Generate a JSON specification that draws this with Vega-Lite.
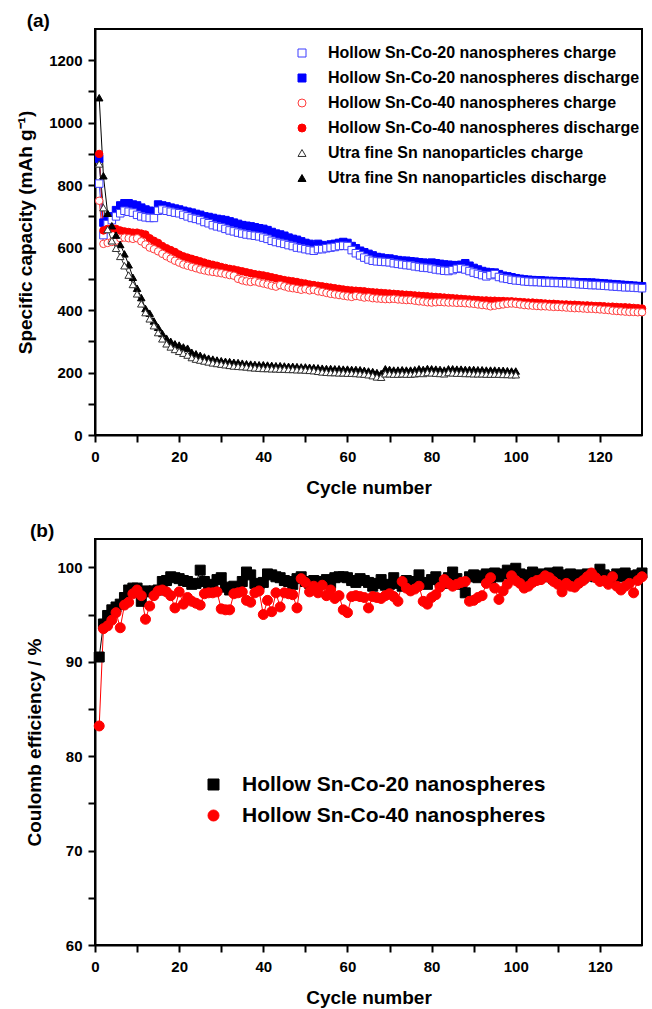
{
"$schema": "https://vega.github.io/schema/vega-lite/v6.json",
"background": "white",
"padding": {"left": 15, "top": 11, "right": 5, "bottom": 5},
"spacing": 104,
"bounds": "flush",
"config": {
  "font": "Liberation Sans",
  "view": {"stroke": "black", "strokeWidth": 2},
  "axis": {"domainColor": "black", "domainWidth": 2, "tickColor": "black", "tickWidth": 2, "labelFont": "Liberation Sans", "labelFontWeight": "bold", "labelFontSize": 15, "labelColor": "black", "titleFont": "Liberation Sans", "titleFontWeight": "bold", "titleColor": "black", "grid": false, "labelOverlap": false, "labelFlush": false},
  "legend": {"labelFont": "Liberation Sans", "labelFontWeight": "bold", "labelColor": "black", "padding": 0, "symbolStrokeWidth": 1, "labelLimit": 600},
  "title": {"font": "Liberation Sans", "fontWeight": "bold", "color": "black"}
},
"resolve": {"scale": {"color": "independent", "fill": "independent", "shape": "independent"}, "legend": {"color": "independent", "fill": "independent", "shape": "independent"}},
"datasets": {
"a": [
{"s":"B","x":1,"y":885},{"s":"B","x":2,"y":680},{"s":"B","x":3,"y":690},{"s":"B","x":4,"y":700},{"s":"B","x":5,"y":720},{"s":"B","x":6,"y":735},{"s":"B","x":7,"y":742},{"s":"B","x":8,"y":742},{"s":"B","x":9,"y":738},{"s":"B","x":10,"y":735},
{"s":"B","x":11,"y":728},{"s":"B","x":12,"y":722},{"s":"B","x":13,"y":718},{"s":"B","x":14,"y":716},{"s":"B","x":15,"y":738},{"s":"B","x":16,"y":735},{"s":"B","x":17,"y":732},{"s":"B","x":18,"y":728},{"s":"B","x":19,"y":725},{"s":"B","x":20,"y":722},
{"s":"B","x":21,"y":718},{"s":"B","x":22,"y":715},{"s":"B","x":23,"y":712},{"s":"B","x":24,"y":708},{"s":"B","x":25,"y":705},{"s":"B","x":26,"y":700},{"s":"B","x":27,"y":698},{"s":"B","x":28,"y":695},{"s":"B","x":29,"y":692},{"s":"B","x":30,"y":690},
{"s":"B","x":31,"y":688},{"s":"B","x":32,"y":684},{"s":"B","x":33,"y":680},{"s":"B","x":34,"y":676},{"s":"B","x":35,"y":672},{"s":"B","x":36,"y":670},{"s":"B","x":37,"y":668},{"s":"B","x":38,"y":665},{"s":"B","x":39,"y":662},{"s":"B","x":40,"y":660},
{"s":"B","x":41,"y":656},{"s":"B","x":42,"y":650},{"s":"B","x":43,"y":645},{"s":"B","x":44,"y":642},{"s":"B","x":45,"y":638},{"s":"B","x":46,"y":632},{"s":"B","x":47,"y":628},{"s":"B","x":48,"y":625},{"s":"B","x":49,"y":620},{"s":"B","x":50,"y":615},
{"s":"B","x":51,"y":612},{"s":"B","x":52,"y":605},{"s":"B","x":53,"y":612},{"s":"B","x":54,"y":608},{"s":"B","x":55,"y":605},{"s":"B","x":56,"y":610},{"s":"B","x":57,"y":612},{"s":"B","x":58,"y":615},{"s":"B","x":59,"y":618},{"s":"B","x":60,"y":615},
{"s":"B","x":61,"y":605},{"s":"B","x":62,"y":598},{"s":"B","x":63,"y":590},{"s":"B","x":64,"y":585},{"s":"B","x":65,"y":580},{"s":"B","x":66,"y":575},{"s":"B","x":67,"y":570},{"s":"B","x":68,"y":568},{"s":"B","x":69,"y":565},{"s":"B","x":70,"y":565},
{"s":"B","x":71,"y":562},{"s":"B","x":72,"y":560},{"s":"B","x":73,"y":558},{"s":"B","x":74,"y":558},{"s":"B","x":75,"y":556},{"s":"B","x":76,"y":555},{"s":"B","x":77,"y":553},{"s":"B","x":78,"y":552},{"s":"B","x":79,"y":550},{"s":"B","x":80,"y":552},
{"s":"B","x":81,"y":550},{"s":"B","x":82,"y":548},{"s":"B","x":83,"y":546},{"s":"B","x":84,"y":545},{"s":"B","x":85,"y":544},{"s":"B","x":86,"y":543},{"s":"B","x":87,"y":545},{"s":"B","x":88,"y":550},{"s":"B","x":89,"y":542},{"s":"B","x":90,"y":535},
{"s":"B","x":91,"y":530},{"s":"B","x":92,"y":525},{"s":"B","x":93,"y":522},{"s":"B","x":94,"y":520},{"s":"B","x":95,"y":520},{"s":"B","x":96,"y":515},{"s":"B","x":97,"y":510},{"s":"B","x":98,"y":508},{"s":"B","x":99,"y":505},{"s":"B","x":100,"y":502},
{"s":"B","x":101,"y":500},{"s":"B","x":102,"y":498},{"s":"B","x":103,"y":497},{"s":"B","x":104,"y":496},{"s":"B","x":105,"y":495},{"s":"B","x":106,"y":495},{"s":"B","x":107,"y":494},{"s":"B","x":108,"y":493},{"s":"B","x":109,"y":493},{"s":"B","x":110,"y":492},
{"s":"B","x":111,"y":492},{"s":"B","x":112,"y":491},{"s":"B","x":113,"y":490},{"s":"B","x":114,"y":490},{"s":"B","x":115,"y":489},{"s":"B","x":116,"y":489},{"s":"B","x":117,"y":488},{"s":"B","x":118,"y":488},{"s":"B","x":119,"y":487},{"s":"B","x":120,"y":486},
{"s":"B","x":121,"y":485},{"s":"B","x":122,"y":484},{"s":"B","x":123,"y":483},{"s":"B","x":124,"y":482},{"s":"B","x":125,"y":481},{"s":"B","x":126,"y":480},{"s":"B","x":127,"y":479},{"s":"B","x":128,"y":478},{"s":"B","x":129,"y":477},{"s":"B","x":130,"y":476},
{"s":"A","x":1,"y":805},{"s":"A","x":2,"y":640},{"s":"A","x":3,"y":675},{"s":"A","x":4,"y":688},{"s":"A","x":5,"y":700},{"s":"A","x":6,"y":710},{"s":"A","x":7,"y":718},{"s":"A","x":8,"y":715},{"s":"A","x":9,"y":712},{"s":"A","x":10,"y":705},
{"s":"A","x":11,"y":700},{"s":"A","x":12,"y":697},{"s":"A","x":13,"y":695},{"s":"A","x":14,"y":695},{"s":"A","x":15,"y":718},{"s":"A","x":16,"y":722},{"s":"A","x":17,"y":718},{"s":"A","x":18,"y":715},{"s":"A","x":19,"y":712},{"s":"A","x":20,"y":710},
{"s":"A","x":21,"y":705},{"s":"A","x":22,"y":700},{"s":"A","x":23,"y":695},{"s":"A","x":24,"y":692},{"s":"A","x":25,"y":688},{"s":"A","x":26,"y":682},{"s":"A","x":27,"y":678},{"s":"A","x":28,"y":672},{"s":"A","x":29,"y":668},{"s":"A","x":30,"y":665},
{"s":"A","x":31,"y":660},{"s":"A","x":32,"y":655},{"s":"A","x":33,"y":652},{"s":"A","x":34,"y":648},{"s":"A","x":35,"y":645},{"s":"A","x":36,"y":642},{"s":"A","x":37,"y":640},{"s":"A","x":38,"y":638},{"s":"A","x":39,"y":636},{"s":"A","x":40,"y":632},
{"s":"A","x":41,"y":628},{"s":"A","x":42,"y":622},{"s":"A","x":43,"y":618},{"s":"A","x":44,"y":615},{"s":"A","x":45,"y":612},{"s":"A","x":46,"y":608},{"s":"A","x":47,"y":605},{"s":"A","x":48,"y":600},{"s":"A","x":49,"y":598},{"s":"A","x":50,"y":595},
{"s":"A","x":51,"y":592},{"s":"A","x":52,"y":590},{"s":"A","x":53,"y":595},{"s":"A","x":54,"y":595},{"s":"A","x":55,"y":598},{"s":"A","x":56,"y":600},{"s":"A","x":57,"y":602},{"s":"A","x":58,"y":605},{"s":"A","x":59,"y":606},{"s":"A","x":60,"y":605},
{"s":"A","x":61,"y":592},{"s":"A","x":62,"y":582},{"s":"A","x":63,"y":575},{"s":"A","x":64,"y":568},{"s":"A","x":65,"y":562},{"s":"A","x":66,"y":558},{"s":"A","x":67,"y":556},{"s":"A","x":68,"y":555},{"s":"A","x":69,"y":554},{"s":"A","x":70,"y":553},
{"s":"A","x":71,"y":550},{"s":"A","x":72,"y":548},{"s":"A","x":73,"y":546},{"s":"A","x":74,"y":544},{"s":"A","x":75,"y":543},{"s":"A","x":76,"y":540},{"s":"A","x":77,"y":538},{"s":"A","x":78,"y":536},{"s":"A","x":79,"y":535},{"s":"A","x":80,"y":533},
{"s":"A","x":81,"y":530},{"s":"A","x":82,"y":528},{"s":"A","x":83,"y":526},{"s":"A","x":84,"y":525},{"s":"A","x":85,"y":528},{"s":"A","x":86,"y":532},{"s":"A","x":87,"y":534},{"s":"A","x":88,"y":530},{"s":"A","x":89,"y":525},{"s":"A","x":90,"y":520},
{"s":"A","x":91,"y":516},{"s":"A","x":92,"y":512},{"s":"A","x":93,"y":508},{"s":"A","x":94,"y":512},{"s":"A","x":95,"y":515},{"s":"A","x":96,"y":506},{"s":"A","x":97,"y":502},{"s":"A","x":98,"y":500},{"s":"A","x":99,"y":497},{"s":"A","x":100,"y":495},
{"s":"A","x":101,"y":494},{"s":"A","x":102,"y":492},{"s":"A","x":103,"y":491},{"s":"A","x":104,"y":490},{"s":"A","x":105,"y":490},{"s":"A","x":106,"y":489},{"s":"A","x":107,"y":488},{"s":"A","x":108,"y":488},{"s":"A","x":109,"y":487},{"s":"A","x":110,"y":487},
{"s":"A","x":111,"y":486},{"s":"A","x":112,"y":486},{"s":"A","x":113,"y":485},{"s":"A","x":114,"y":484},{"s":"A","x":115,"y":483},{"s":"A","x":116,"y":482},{"s":"A","x":117,"y":481},{"s":"A","x":118,"y":480},{"s":"A","x":119,"y":480},{"s":"A","x":120,"y":479},
{"s":"A","x":121,"y":478},{"s":"A","x":122,"y":477},{"s":"A","x":123,"y":476},{"s":"A","x":124,"y":475},{"s":"A","x":125,"y":474},{"s":"A","x":126,"y":473},{"s":"A","x":127,"y":473},{"s":"A","x":128,"y":472},{"s":"A","x":129,"y":471},{"s":"A","x":130,"y":470},
{"s":"D","x":1,"y":900},{"s":"D","x":2,"y":655},{"s":"D","x":3,"y":660},{"s":"D","x":4,"y":662},{"s":"D","x":5,"y":660},{"s":"D","x":6,"y":655},{"s":"D","x":7,"y":652},{"s":"D","x":8,"y":650},{"s":"D","x":9,"y":648},{"s":"D","x":10,"y":648},
{"s":"D","x":11,"y":645},{"s":"D","x":12,"y":642},{"s":"D","x":13,"y":630},{"s":"D","x":14,"y":622},{"s":"D","x":15,"y":615},{"s":"D","x":16,"y":605},{"s":"D","x":17,"y":598},{"s":"D","x":18,"y":592},{"s":"D","x":19,"y":586},{"s":"D","x":20,"y":578},
{"s":"D","x":21,"y":572},{"s":"D","x":22,"y":568},{"s":"D","x":23,"y":564},{"s":"D","x":24,"y":560},{"s":"D","x":25,"y":556},{"s":"D","x":26,"y":552},{"s":"D","x":27,"y":548},{"s":"D","x":28,"y":545},{"s":"D","x":29,"y":542},{"s":"D","x":30,"y":538},
{"s":"D","x":31,"y":535},{"s":"D","x":32,"y":532},{"s":"D","x":33,"y":530},{"s":"D","x":34,"y":527},{"s":"D","x":35,"y":524},{"s":"D","x":36,"y":521},{"s":"D","x":37,"y":518},{"s":"D","x":38,"y":515},{"s":"D","x":39,"y":513},{"s":"D","x":40,"y":511},
{"s":"D","x":41,"y":508},{"s":"D","x":42,"y":505},{"s":"D","x":43,"y":502},{"s":"D","x":44,"y":499},{"s":"D","x":45,"y":496},{"s":"D","x":46,"y":494},{"s":"D","x":47,"y":492},{"s":"D","x":48,"y":490},{"s":"D","x":49,"y":487},{"s":"D","x":50,"y":485},
{"s":"D","x":51,"y":482},{"s":"D","x":52,"y":480},{"s":"D","x":53,"y":478},{"s":"D","x":54,"y":476},{"s":"D","x":55,"y":474},{"s":"D","x":56,"y":472},{"s":"D","x":57,"y":470},{"s":"D","x":58,"y":468},{"s":"D","x":59,"y":466},{"s":"D","x":60,"y":464},
{"s":"D","x":61,"y":463},{"s":"D","x":62,"y":462},{"s":"D","x":63,"y":461},{"s":"D","x":64,"y":460},{"s":"D","x":65,"y":458},{"s":"D","x":66,"y":457},{"s":"D","x":67,"y":456},{"s":"D","x":68,"y":455},{"s":"D","x":69,"y":454},{"s":"D","x":70,"y":453},
{"s":"D","x":71,"y":452},{"s":"D","x":72,"y":451},{"s":"D","x":73,"y":450},{"s":"D","x":74,"y":449},{"s":"D","x":75,"y":448},{"s":"D","x":76,"y":447},{"s":"D","x":77,"y":446},{"s":"D","x":78,"y":445},{"s":"D","x":79,"y":444},{"s":"D","x":80,"y":443},
{"s":"D","x":81,"y":442},{"s":"D","x":82,"y":441},{"s":"D","x":83,"y":440},{"s":"D","x":84,"y":439},{"s":"D","x":85,"y":438},{"s":"D","x":86,"y":437},{"s":"D","x":87,"y":436},{"s":"D","x":88,"y":435},{"s":"D","x":89,"y":434},{"s":"D","x":90,"y":433},
{"s":"D","x":91,"y":432},{"s":"D","x":92,"y":431},{"s":"D","x":93,"y":431},{"s":"D","x":94,"y":430},{"s":"D","x":95,"y":430},{"s":"D","x":96,"y":429},{"s":"D","x":97,"y":429},{"s":"D","x":98,"y":428},{"s":"D","x":99,"y":428},{"s":"D","x":100,"y":427},
{"s":"D","x":101,"y":426},{"s":"D","x":102,"y":425},{"s":"D","x":103,"y":424},{"s":"D","x":104,"y":424},{"s":"D","x":105,"y":423},{"s":"D","x":106,"y":422},{"s":"D","x":107,"y":421},{"s":"D","x":108,"y":420},{"s":"D","x":109,"y":420},{"s":"D","x":110,"y":419},
{"s":"D","x":111,"y":418},{"s":"D","x":112,"y":418},{"s":"D","x":113,"y":417},{"s":"D","x":114,"y":417},{"s":"D","x":115,"y":416},{"s":"D","x":116,"y":415},{"s":"D","x":117,"y":415},{"s":"D","x":118,"y":414},{"s":"D","x":119,"y":413},{"s":"D","x":120,"y":413},
{"s":"D","x":121,"y":412},{"s":"D","x":122,"y":411},{"s":"D","x":123,"y":411},{"s":"D","x":124,"y":410},{"s":"D","x":125,"y":409},{"s":"D","x":126,"y":409},{"s":"D","x":127,"y":408},{"s":"D","x":128,"y":407},{"s":"D","x":129,"y":406},{"s":"D","x":130,"y":405},
{"s":"C","x":1,"y":750},{"s":"C","x":2,"y":612},{"s":"C","x":3,"y":615},{"s":"C","x":4,"y":618},{"s":"C","x":5,"y":622},{"s":"C","x":6,"y":630},{"s":"C","x":7,"y":632},{"s":"C","x":8,"y":630},{"s":"C","x":9,"y":628},{"s":"C","x":10,"y":630},
{"s":"C","x":11,"y":620},{"s":"C","x":12,"y":610},{"s":"C","x":13,"y":600},{"s":"C","x":14,"y":595},{"s":"C","x":15,"y":588},{"s":"C","x":16,"y":580},{"s":"C","x":17,"y":572},{"s":"C","x":18,"y":565},{"s":"C","x":19,"y":558},{"s":"C","x":20,"y":552},
{"s":"C","x":21,"y":546},{"s":"C","x":22,"y":542},{"s":"C","x":23,"y":538},{"s":"C","x":24,"y":534},{"s":"C","x":25,"y":530},{"s":"C","x":26,"y":527},{"s":"C","x":27,"y":524},{"s":"C","x":28,"y":522},{"s":"C","x":29,"y":520},{"s":"C","x":30,"y":518},
{"s":"C","x":31,"y":515},{"s":"C","x":32,"y":512},{"s":"C","x":33,"y":510},{"s":"C","x":34,"y":500},{"s":"C","x":35,"y":495},{"s":"C","x":36,"y":492},{"s":"C","x":37,"y":490},{"s":"C","x":38,"y":492},{"s":"C","x":39,"y":488},{"s":"C","x":40,"y":485},
{"s":"C","x":41,"y":482},{"s":"C","x":42,"y":478},{"s":"C","x":43,"y":475},{"s":"C","x":44,"y":480},{"s":"C","x":45,"y":476},{"s":"C","x":46,"y":472},{"s":"C","x":47,"y":470},{"s":"C","x":48,"y":468},{"s":"C","x":49,"y":465},{"s":"C","x":50,"y":467},
{"s":"C","x":51,"y":463},{"s":"C","x":52,"y":465},{"s":"C","x":53,"y":460},{"s":"C","x":54,"y":458},{"s":"C","x":55,"y":455},{"s":"C","x":56,"y":452},{"s":"C","x":57,"y":450},{"s":"C","x":58,"y":448},{"s":"C","x":59,"y":446},{"s":"C","x":60,"y":444},
{"s":"C","x":61,"y":442},{"s":"C","x":62,"y":445},{"s":"C","x":63,"y":443},{"s":"C","x":64,"y":440},{"s":"C","x":65,"y":441},{"s":"C","x":66,"y":438},{"s":"C","x":67,"y":437},{"s":"C","x":68,"y":436},{"s":"C","x":69,"y":435},{"s":"C","x":70,"y":435},
{"s":"C","x":71,"y":436},{"s":"C","x":72,"y":434},{"s":"C","x":73,"y":433},{"s":"C","x":74,"y":432},{"s":"C","x":75,"y":432},{"s":"C","x":76,"y":430},{"s":"C","x":77,"y":428},{"s":"C","x":78,"y":427},{"s":"C","x":79,"y":425},{"s":"C","x":80,"y":424},
{"s":"C","x":81,"y":425},{"s":"C","x":82,"y":426},{"s":"C","x":83,"y":425},{"s":"C","x":84,"y":424},{"s":"C","x":85,"y":424},{"s":"C","x":86,"y":423},{"s":"C","x":87,"y":423},{"s":"C","x":88,"y":422},{"s":"C","x":89,"y":421},{"s":"C","x":90,"y":420},
{"s":"C","x":91,"y":418},{"s":"C","x":92,"y":416},{"s":"C","x":93,"y":415},{"s":"C","x":94,"y":412},{"s":"C","x":95,"y":414},{"s":"C","x":96,"y":416},{"s":"C","x":97,"y":418},{"s":"C","x":98,"y":420},{"s":"C","x":99,"y":421},{"s":"C","x":100,"y":420},
{"s":"C","x":101,"y":418},{"s":"C","x":102,"y":416},{"s":"C","x":103,"y":415},{"s":"C","x":104,"y":414},{"s":"C","x":105,"y":413},{"s":"C","x":106,"y":412},{"s":"C","x":107,"y":412},{"s":"C","x":108,"y":411},{"s":"C","x":109,"y":410},{"s":"C","x":110,"y":410},
{"s":"C","x":111,"y":409},{"s":"C","x":112,"y":408},{"s":"C","x":113,"y":407},{"s":"C","x":114,"y":406},{"s":"C","x":115,"y":406},{"s":"C","x":116,"y":405},{"s":"C","x":117,"y":404},{"s":"C","x":118,"y":404},{"s":"C","x":119,"y":403},{"s":"C","x":120,"y":402},
{"s":"C","x":121,"y":401},{"s":"C","x":122,"y":400},{"s":"C","x":123,"y":398},{"s":"C","x":124,"y":397},{"s":"C","x":125,"y":396},{"s":"C","x":126,"y":395},{"s":"C","x":127,"y":394},{"s":"C","x":128,"y":394},{"s":"C","x":129,"y":393},{"s":"C","x":130,"y":393},
{"s":"F","x":1,"y":1080},{"s":"F","x":2,"y":830},{"s":"F","x":3,"y":710},{"s":"F","x":4,"y":670},{"s":"F","x":5,"y":640},{"s":"F","x":6,"y":610},{"s":"F","x":7,"y":580},{"s":"F","x":8,"y":545},{"s":"F","x":9,"y":505},{"s":"F","x":10,"y":470},
{"s":"F","x":11,"y":440},{"s":"F","x":12,"y":405},{"s":"F","x":13,"y":390},{"s":"F","x":14,"y":365},{"s":"F","x":15,"y":345},{"s":"F","x":16,"y":325},{"s":"F","x":17,"y":310},{"s":"F","x":18,"y":300},{"s":"F","x":19,"y":292},{"s":"F","x":20,"y":288},
{"s":"F","x":21,"y":282},{"s":"F","x":22,"y":278},{"s":"F","x":23,"y":265},{"s":"F","x":24,"y":260},{"s":"F","x":25,"y":255},{"s":"F","x":26,"y":250},{"s":"F","x":27,"y":246},{"s":"F","x":28,"y":243},{"s":"F","x":29,"y":240},{"s":"F","x":30,"y":238},
{"s":"F","x":31,"y":236},{"s":"F","x":32,"y":235},{"s":"F","x":33,"y":233},{"s":"F","x":34,"y":232},{"s":"F","x":35,"y":230},{"s":"F","x":36,"y":228},{"s":"F","x":37,"y":227},{"s":"F","x":38,"y":226},{"s":"F","x":39,"y":225},{"s":"F","x":40,"y":225},
{"s":"F","x":41,"y":224},{"s":"F","x":42,"y":223},{"s":"F","x":43,"y":222},{"s":"F","x":44,"y":222},{"s":"F","x":45,"y":221},{"s":"F","x":46,"y":220},{"s":"F","x":47,"y":220},{"s":"F","x":48,"y":219},{"s":"F","x":49,"y":218},{"s":"F","x":50,"y":218},
{"s":"F","x":51,"y":217},{"s":"F","x":52,"y":216},{"s":"F","x":53,"y":215},{"s":"F","x":54,"y":214},{"s":"F","x":55,"y":213},{"s":"F","x":56,"y":213},{"s":"F","x":57,"y":212},{"s":"F","x":58,"y":212},{"s":"F","x":59,"y":211},{"s":"F","x":60,"y":211},
{"s":"F","x":61,"y":210},{"s":"F","x":62,"y":210},{"s":"F","x":63,"y":209},{"s":"F","x":64,"y":207},{"s":"F","x":65,"y":205},{"s":"F","x":66,"y":203},{"s":"F","x":67,"y":200},{"s":"F","x":68,"y":197},{"s":"F","x":69,"y":212},{"s":"F","x":70,"y":210},
{"s":"F","x":71,"y":208},{"s":"F","x":72,"y":208},{"s":"F","x":73,"y":209},{"s":"F","x":74,"y":208},{"s":"F","x":75,"y":208},{"s":"F","x":76,"y":209},{"s":"F","x":77,"y":212},{"s":"F","x":78,"y":210},{"s":"F","x":79,"y":213},{"s":"F","x":80,"y":212},
{"s":"F","x":81,"y":211},{"s":"F","x":82,"y":210},{"s":"F","x":83,"y":208},{"s":"F","x":84,"y":212},{"s":"F","x":85,"y":212},{"s":"F","x":86,"y":211},{"s":"F","x":87,"y":211},{"s":"F","x":88,"y":210},{"s":"F","x":89,"y":210},{"s":"F","x":90,"y":210},
{"s":"F","x":91,"y":209},{"s":"F","x":92,"y":209},{"s":"F","x":93,"y":208},{"s":"F","x":94,"y":208},{"s":"F","x":95,"y":208},{"s":"F","x":96,"y":207},{"s":"F","x":97,"y":207},{"s":"F","x":98,"y":206},{"s":"F","x":99,"y":205},{"s":"F","x":100,"y":205},
{"s":"E","x":1,"y":868},{"s":"E","x":2,"y":728},{"s":"E","x":3,"y":658},{"s":"E","x":4,"y":622},{"s":"E","x":5,"y":598},{"s":"E","x":6,"y":572},{"s":"E","x":7,"y":542},{"s":"E","x":8,"y":512},{"s":"E","x":9,"y":482},{"s":"E","x":10,"y":452},
{"s":"E","x":11,"y":420},{"s":"E","x":12,"y":392},{"s":"E","x":13,"y":372},{"s":"E","x":14,"y":350},{"s":"E","x":15,"y":328},{"s":"E","x":16,"y":308},{"s":"E","x":17,"y":292},{"s":"E","x":18,"y":282},{"s":"E","x":19,"y":274},{"s":"E","x":20,"y":268},
{"s":"E","x":21,"y":262},{"s":"E","x":22,"y":256},{"s":"E","x":23,"y":248},{"s":"E","x":24,"y":243},{"s":"E","x":25,"y":240},{"s":"E","x":26,"y":237},{"s":"E","x":27,"y":234},{"s":"E","x":28,"y":231},{"s":"E","x":29,"y":229},{"s":"E","x":30,"y":227},
{"s":"E","x":31,"y":225},{"s":"E","x":32,"y":223},{"s":"E","x":33,"y":221},{"s":"E","x":34,"y":220},{"s":"E","x":35,"y":219},{"s":"E","x":36,"y":218},{"s":"E","x":37,"y":216},{"s":"E","x":38,"y":215},{"s":"E","x":39,"y":214},{"s":"E","x":40,"y":213},
{"s":"E","x":41,"y":213},{"s":"E","x":42,"y":212},{"s":"E","x":43,"y":212},{"s":"E","x":44,"y":211},{"s":"E","x":45,"y":211},{"s":"E","x":46,"y":210},{"s":"E","x":47,"y":210},{"s":"E","x":48,"y":209},{"s":"E","x":49,"y":209},{"s":"E","x":50,"y":208},
{"s":"E","x":51,"y":207},{"s":"E","x":52,"y":206},{"s":"E","x":53,"y":204},{"s":"E","x":54,"y":202},{"s":"E","x":55,"y":201},{"s":"E","x":56,"y":200},{"s":"E","x":57,"y":200},{"s":"E","x":58,"y":199},{"s":"E","x":59,"y":199},{"s":"E","x":60,"y":198},
{"s":"E","x":61,"y":198},{"s":"E","x":62,"y":197},{"s":"E","x":63,"y":196},{"s":"E","x":64,"y":195},{"s":"E","x":65,"y":193},{"s":"E","x":66,"y":190},{"s":"E","x":67,"y":186},{"s":"E","x":68,"y":185},{"s":"E","x":69,"y":196},{"s":"E","x":70,"y":196},
{"s":"E","x":71,"y":195},{"s":"E","x":72,"y":195},{"s":"E","x":73,"y":196},{"s":"E","x":74,"y":195},{"s":"E","x":75,"y":195},{"s":"E","x":76,"y":196},{"s":"E","x":77,"y":198},{"s":"E","x":78,"y":197},{"s":"E","x":79,"y":200},{"s":"E","x":80,"y":199},
{"s":"E","x":81,"y":198},{"s":"E","x":82,"y":197},{"s":"E","x":83,"y":196},{"s":"E","x":84,"y":200},{"s":"E","x":85,"y":199},{"s":"E","x":86,"y":198},{"s":"E","x":87,"y":198},{"s":"E","x":88,"y":197},{"s":"E","x":89,"y":197},{"s":"E","x":90,"y":196},
{"s":"E","x":91,"y":196},{"s":"E","x":92,"y":196},{"s":"E","x":93,"y":195},{"s":"E","x":94,"y":195},{"s":"E","x":95,"y":195},{"s":"E","x":96,"y":195},{"s":"E","x":97,"y":194},{"s":"E","x":98,"y":194},{"s":"E","x":99,"y":193},{"s":"E","x":100,"y":193}
],
"b": [
{"s":"G","x":1,"y":90.5},{"s":"G","x":2,"y":94.0},{"s":"G","x":3,"y":94.9},{"s":"G","x":4,"y":95.5},{"s":"G","x":5,"y":95.8},{"s":"G","x":6,"y":96.1},{"s":"G","x":7,"y":96.8},{"s":"G","x":8,"y":97.6},{"s":"G","x":9,"y":97.8},{"s":"G","x":10,"y":97.8},
{"s":"G","x":11,"y":96.4},{"s":"G","x":12,"y":97.5},{"s":"G","x":13,"y":97.4},{"s":"G","x":14,"y":97.5},{"s":"G","x":15,"y":97.6},{"s":"G","x":16,"y":98.5},{"s":"G","x":17,"y":98.6},{"s":"G","x":18,"y":99.0},{"s":"G","x":19,"y":98.9},{"s":"G","x":20,"y":98.8},
{"s":"G","x":21,"y":98.6},{"s":"G","x":22,"y":98.5},{"s":"G","x":23,"y":98.2},{"s":"G","x":24,"y":98.3},{"s":"G","x":25,"y":99.7},{"s":"G","x":26,"y":98.5},{"s":"G","x":27,"y":98.2},{"s":"G","x":28,"y":97.9},{"s":"G","x":29,"y":98.7},{"s":"G","x":30,"y":98.9},
{"s":"G","x":31,"y":97.9},{"s":"G","x":32,"y":97.6},{"s":"G","x":33,"y":98.0},{"s":"G","x":34,"y":97.8},{"s":"G","x":35,"y":98.5},{"s":"G","x":36,"y":99.5},{"s":"G","x":37,"y":99.2},{"s":"G","x":38,"y":98.3},{"s":"G","x":39,"y":98.2},{"s":"G","x":40,"y":98.4},
{"s":"G","x":41,"y":99.3},{"s":"G","x":42,"y":99.2},{"s":"G","x":43,"y":99.0},{"s":"G","x":44,"y":98.9},{"s":"G","x":45,"y":98.6},{"s":"G","x":46,"y":98.5},{"s":"G","x":47,"y":98.2},{"s":"G","x":48,"y":98.8},{"s":"G","x":49,"y":99.0},{"s":"G","x":50,"y":98.5},
{"s":"G","x":51,"y":98.3},{"s":"G","x":52,"y":98.6},{"s":"G","x":53,"y":98.2},{"s":"G","x":54,"y":98.5},{"s":"G","x":55,"y":98.7},{"s":"G","x":56,"y":98.3},{"s":"G","x":57,"y":98.9},{"s":"G","x":58,"y":99.0},{"s":"G","x":59,"y":99.0},{"s":"G","x":60,"y":98.9},
{"s":"G","x":61,"y":98.6},{"s":"G","x":62,"y":98.4},{"s":"G","x":63,"y":98.8},{"s":"G","x":64,"y":98.6},{"s":"G","x":65,"y":98.4},{"s":"G","x":66,"y":98.0},{"s":"G","x":67,"y":98.3},{"s":"G","x":68,"y":98.7},{"s":"G","x":69,"y":98.1},{"s":"G","x":70,"y":98.2},
{"s":"G","x":71,"y":98.9},{"s":"G","x":72,"y":98.3},{"s":"G","x":73,"y":98.0},{"s":"G","x":74,"y":98.6},{"s":"G","x":75,"y":98.1},{"s":"G","x":76,"y":98.5},{"s":"G","x":77,"y":99.2},{"s":"G","x":78,"y":98.4},{"s":"G","x":79,"y":98.2},{"s":"G","x":80,"y":98.7},
{"s":"G","x":81,"y":99.0},{"s":"G","x":82,"y":98.5},{"s":"G","x":83,"y":98.3},{"s":"G","x":84,"y":98.9},{"s":"G","x":85,"y":99.5},{"s":"G","x":86,"y":98.8},{"s":"G","x":87,"y":98.2},{"s":"G","x":88,"y":97.3},{"s":"G","x":89,"y":99.0},{"s":"G","x":90,"y":99.2},
{"s":"G","x":91,"y":98.9},{"s":"G","x":92,"y":99.1},{"s":"G","x":93,"y":99.3},{"s":"G","x":94,"y":98.8},{"s":"G","x":95,"y":99.4},{"s":"G","x":96,"y":99.0},{"s":"G","x":97,"y":99.3},{"s":"G","x":98,"y":99.7},{"s":"G","x":99,"y":99.2},{"s":"G","x":100,"y":99.9},
{"s":"G","x":101,"y":99.3},{"s":"G","x":102,"y":98.9},{"s":"G","x":103,"y":99.2},{"s":"G","x":104,"y":99.5},{"s":"G","x":105,"y":99.0},{"s":"G","x":106,"y":99.3},{"s":"G","x":107,"y":99.0},{"s":"G","x":108,"y":99.4},{"s":"G","x":109,"y":98.8},{"s":"G","x":110,"y":99.5},
{"s":"G","x":111,"y":99.2},{"s":"G","x":112,"y":99.1},{"s":"G","x":113,"y":99.3},{"s":"G","x":114,"y":99.0},{"s":"G","x":115,"y":99.2},{"s":"G","x":116,"y":98.9},{"s":"G","x":117,"y":99.3},{"s":"G","x":118,"y":99.1},{"s":"G","x":119,"y":99.0},{"s":"G","x":120,"y":99.8},
{"s":"G","x":121,"y":99.2},{"s":"G","x":122,"y":99.0},{"s":"G","x":123,"y":98.9},{"s":"G","x":124,"y":99.3},{"s":"G","x":125,"y":99.0},{"s":"G","x":126,"y":99.4},{"s":"G","x":127,"y":99.1},{"s":"G","x":128,"y":98.8},{"s":"G","x":129,"y":99.2},{"s":"G","x":130,"y":99.4},
{"s":"H","x":1,"y":83.2},{"s":"H","x":2,"y":93.5},{"s":"H","x":3,"y":93.8},{"s":"H","x":4,"y":94.4},{"s":"H","x":5,"y":95.2},{"s":"H","x":6,"y":93.6},{"s":"H","x":7,"y":96.0},{"s":"H","x":8,"y":96.3},{"s":"H","x":9,"y":97.2},{"s":"H","x":10,"y":97.6},
{"s":"H","x":11,"y":97.0},{"s":"H","x":12,"y":94.5},{"s":"H","x":13,"y":95.9},{"s":"H","x":14,"y":97.0},{"s":"H","x":15,"y":97.5},{"s":"H","x":16,"y":97.6},{"s":"H","x":17,"y":97.4},{"s":"H","x":18,"y":97.0},{"s":"H","x":19,"y":95.7},{"s":"H","x":20,"y":97.4},
{"s":"H","x":21,"y":96.1},{"s":"H","x":22,"y":96.8},{"s":"H","x":23,"y":96.4},{"s":"H","x":24,"y":96.2},{"s":"H","x":25,"y":96.0},{"s":"H","x":26,"y":97.2},{"s":"H","x":27,"y":97.3},{"s":"H","x":28,"y":97.3},{"s":"H","x":29,"y":97.4},{"s":"H","x":30,"y":95.6},
{"s":"H","x":31,"y":95.5},{"s":"H","x":32,"y":95.5},{"s":"H","x":33,"y":97.2},{"s":"H","x":34,"y":97.3},{"s":"H","x":35,"y":97.4},{"s":"H","x":36,"y":96.5},{"s":"H","x":37,"y":96.3},{"s":"H","x":38,"y":97.3},{"s":"H","x":39,"y":97.5},{"s":"H","x":40,"y":95.0},
{"s":"H","x":41,"y":96.5},{"s":"H","x":42,"y":95.3},{"s":"H","x":43,"y":97.3},{"s":"H","x":44,"y":95.8},{"s":"H","x":45,"y":97.3},{"s":"H","x":46,"y":97.2},{"s":"H","x":47,"y":97.1},{"s":"H","x":48,"y":95.7},{"s":"H","x":49,"y":98.8},{"s":"H","x":50,"y":98.4},
{"s":"H","x":51,"y":97.4},{"s":"H","x":52,"y":98.0},{"s":"H","x":53,"y":97.3},{"s":"H","x":54,"y":98.1},{"s":"H","x":55,"y":97.0},{"s":"H","x":56,"y":97.6},{"s":"H","x":57,"y":96.7},{"s":"H","x":58,"y":97.0},{"s":"H","x":59,"y":95.5},{"s":"H","x":60,"y":95.2},
{"s":"H","x":61,"y":96.9},{"s":"H","x":62,"y":97.0},{"s":"H","x":63,"y":96.9},{"s":"H","x":64,"y":96.8},{"s":"H","x":65,"y":95.7},{"s":"H","x":66,"y":96.9},{"s":"H","x":67,"y":96.8},{"s":"H","x":68,"y":96.7},{"s":"H","x":69,"y":97.0},{"s":"H","x":70,"y":97.2},
{"s":"H","x":71,"y":96.9},{"s":"H","x":72,"y":96.4},{"s":"H","x":73,"y":98.5},{"s":"H","x":74,"y":97.8},{"s":"H","x":75,"y":97.5},{"s":"H","x":76,"y":97.7},{"s":"H","x":77,"y":98.0},{"s":"H","x":78,"y":96.4},{"s":"H","x":79,"y":96.1},{"s":"H","x":80,"y":96.8},
{"s":"H","x":81,"y":97.1},{"s":"H","x":82,"y":97.9},{"s":"H","x":83,"y":98.7},{"s":"H","x":84,"y":98.3},{"s":"H","x":85,"y":98.0},{"s":"H","x":86,"y":98.2},{"s":"H","x":87,"y":98.4},{"s":"H","x":88,"y":98.5},{"s":"H","x":89,"y":96.4},{"s":"H","x":90,"y":96.5},
{"s":"H","x":91,"y":96.8},{"s":"H","x":92,"y":97.0},{"s":"H","x":93,"y":98.3},{"s":"H","x":94,"y":98.9},{"s":"H","x":95,"y":97.8},{"s":"H","x":96,"y":96.6},{"s":"H","x":97,"y":97.5},{"s":"H","x":98,"y":98.2},{"s":"H","x":99,"y":99.1},{"s":"H","x":100,"y":98.6},
{"s":"H","x":101,"y":98.3},{"s":"H","x":102,"y":97.8},{"s":"H","x":103,"y":98.0},{"s":"H","x":104,"y":98.4},{"s":"H","x":105,"y":98.6},{"s":"H","x":106,"y":98.7},{"s":"H","x":107,"y":99.1},{"s":"H","x":108,"y":98.9},{"s":"H","x":109,"y":98.5},{"s":"H","x":110,"y":98.2},
{"s":"H","x":111,"y":97.4},{"s":"H","x":112,"y":98.3},{"s":"H","x":113,"y":98.0},{"s":"H","x":114,"y":97.9},{"s":"H","x":115,"y":98.3},{"s":"H","x":116,"y":98.6},{"s":"H","x":117,"y":99.0},{"s":"H","x":118,"y":99.4},{"s":"H","x":119,"y":98.9},{"s":"H","x":120,"y":98.5},
{"s":"H","x":121,"y":98.6},{"s":"H","x":122,"y":98.2},{"s":"H","x":123,"y":99.0},{"s":"H","x":124,"y":98.0},{"s":"H","x":125,"y":97.6},{"s":"H","x":126,"y":98.0},{"s":"H","x":127,"y":98.3},{"s":"H","x":128,"y":97.3},{"s":"H","x":129,"y":98.6},{"s":"H","x":130,"y":99.0}
]
},
"vconcat": [
{
  "width": 547, "height": 406,
  "title": {"text": "(a)", "anchor": "start", "dx": 10, "offset": -2, "fontSize": 19},
  "data": {"name": "a"},
  "encoding": {
    "x": {"field": "x", "type": "quantitative", "scale": {"domain": [0, 130], "nice": false, "zero": false},
      "axis": {"values": [0,10,20,30,40,50,60,70,80,90,100,110,120], "format": "d", "labelExpr": "datum.value % 20 == 0 ? datum.label : ''", "title": "Cycle number", "titleFontSize": 19, "titlePadding": 14, "labelPadding": 7, "tickSize": 7}},
    "y": {"field": "y", "type": "quantitative", "scale": {"domain": [0, 1300], "nice": false},
      "axis": {"values": [0,100,200,300,400,500,600,700,800,900,1000,1100,1200], "format": "d", "labelExpr": "datum.value % 200 == 0 ? datum.label : ''", "title": "Specific capacity (mAh g⁻¹)", "titleFontSize": 19, "titlePadding": 13, "labelPadding": 6, "tickSize": 7}}
  },
  "layer": [
    {"mark": {"type": "line", "strokeWidth": 1},
     "encoding": {"color": {"field": "s", "type": "nominal"}}},
    {"mark": {"type": "point", "filled": false, "opacity": 1, "strokeWidth": 1, "size": 56},
     "encoding": {
       "color": {"field": "s", "type": "nominal", "scale": {"domain": ["A","B","C","D","E","F"], "range": ["#3c3cff","#0000ff","#ff3c3c","#ff0000","#303030","#000000"]},
         "legend": {"title": null, "orient": "none", "legendX": 199, "legendY": 16, "symbolSize": 64, "symbolStrokeWidth": 1, "labelFontSize": 16, "labelOffset": 18, "rowPadding": 9, "labelLimit": 600,
           "labelExpr": "datum.label=='A'?'Hollow Sn-Co-20 nanospheres charge':datum.label=='B'?'Hollow Sn-Co-20 nanospheres discharge':datum.label=='C'?'Hollow Sn-Co-40 nanospheres charge':datum.label=='D'?'Hollow Sn-Co-40 nanospheres discharge':datum.label=='E'?'Utra fine Sn nanoparticles charge':'Utra fine Sn nanoparticles discharge'"}},
       "fill": {"field": "s", "type": "nominal", "scale": {"domain": ["A","B","C","D","E","F"], "range": ["#ffffff","#0000ff","#ffffff","#ff0000","#ffffff","#000000"]}},
       "shape": {"field": "s", "type": "nominal", "scale": {"domain": ["A","B","C","D","E","F"], "range": ["square","square","circle","circle","triangle-up","triangle-up"]}}
     }}
  ]
},
{
  "width": 547, "height": 406,
  "title": {"text": "(b)", "anchor": "start", "dx": 4, "offset": -2, "fontSize": 19},
  "data": {"name": "b"},
  "encoding": {
    "x": {"field": "x", "type": "quantitative", "scale": {"domain": [0, 130], "nice": false, "zero": false},
      "axis": {"values": [0,10,20,30,40,50,60,70,80,90,100,110,120], "format": "d", "labelExpr": "datum.value % 20 == 0 ? datum.label : ''", "title": "Cycle number", "titleFontSize": 19, "titlePadding": 14, "labelPadding": 7, "tickSize": 7}},
    "y": {"field": "y", "type": "quantitative", "scale": {"domain": [60, 103], "nice": false, "zero": false},
      "axis": {"values": [60,65,70,75,80,85,90,95,100], "format": "d", "labelExpr": "datum.value % 10 == 0 ? datum.label : ''", "title": "Coulomb efficiency / %", "titleFontSize": 19, "titlePadding": 12, "labelPadding": 6, "tickSize": 7}}
  },
  "layer": [
    {"mark": {"type": "line", "strokeWidth": 1},
     "encoding": {"color": {"field": "s", "type": "nominal"}}},
    {"mark": {"type": "point", "filled": false, "opacity": 1, "strokeWidth": 1, "size": 100},
     "encoding": {
       "color": {"field": "s", "type": "nominal", "scale": {"domain": ["G","H"], "range": ["#000000","#ff0000"]},
         "legend": {"title": null, "orient": "none", "legendX": 108, "legendY": 235, "symbolSize": 121, "symbolStrokeWidth": 1, "labelFontSize": 21, "labelOffset": 18, "rowPadding": 9, "labelLimit": 600,
           "labelExpr": "datum.label=='G'?'Hollow Sn-Co-20 nanospheres':'Hollow Sn-Co-40 nanospheres'"}},
       "fill": {"field": "s", "type": "nominal", "scale": {"domain": ["G","H"], "range": ["#000000","#ff0000"]}},
       "shape": {"field": "s", "type": "nominal", "scale": {"domain": ["G","H"], "range": ["square","circle"]}}
     }}
  ]
}
]
}
